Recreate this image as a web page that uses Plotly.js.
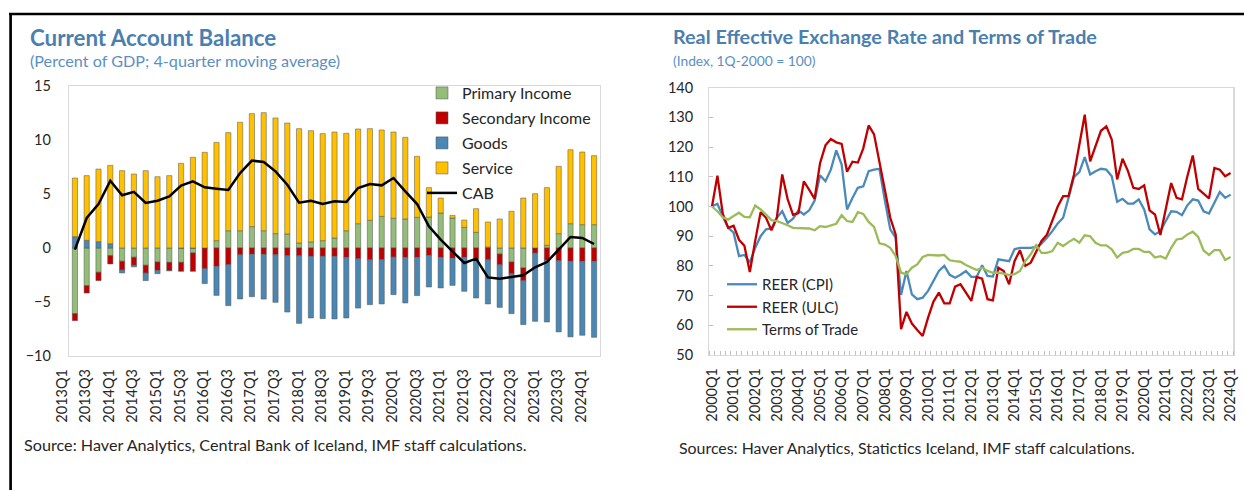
<!DOCTYPE html>
<html>
<head>
<meta charset="utf-8">
<script src="https://cdn.plot.ly/plotly-3.0.1.min.js"></script>
<style>
html,body{margin:0;padding:0;background:#fff;}
#chart{width:1244px;height:490px;}
</style>
</head>
<body>
<div id="chart"></div>
<script>
function quarterRange(y0, q0, y1, q1) {
  var out = [];
  var y = y0, q = q0;
  while (y < y1 || (y === y1 && q <= q1)) {
    out.push(y + 'Q' + q);
    q++; if (q > 4) { q = 1; y++; }
  }
  return out;
}

// ---------- Left chart: Current Account Balance (percent of GDP) ----------
var caQuarters = quarterRange(2013, 1, 2024, 1);
var primaryIncome = [-6.08,-3.49,-2.25,-0.71,-1.23,-0.86,-1.6,-1.3,-1.33,-1.33,-0.46,0,0.68,1.6,1.6,1.98,1.6,1.33,1.3,0.46,0.56,0.68,0.93,1.6,2.25,2.56,2.93,2.75,2.69,2.84,2.87,3.24,2.78,1.91,1.45,0.09,-0.56,-1.3,-1.85,0,0.25,1.33,2.25,2.16,2.16];
var secondaryIncome = [-0.65,-0.68,-0.77,-0.77,-0.8,-0.74,-0.71,-0.77,-0.74,-0.83,-1.7,-1.91,-1.7,-1.54,-0.62,-0.56,-0.59,-0.62,-0.71,-0.71,-0.77,-0.77,-0.77,-0.86,-0.99,-1.08,-1.08,-0.83,-0.86,-0.86,-0.68,-0.86,-0.93,-0.86,-1.08,-1.08,-0.99,-1.08,-1.17,-0.46,-1.14,-1.17,-1.23,-1.23,-1.23];
var goods = [1.05,0.71,0.59,0.4,-0.28,-0.15,-0.71,-0.31,-0.05,0,0,-1.39,-2.69,-3.8,-4.1,-3.95,-4.14,-4.41,-5.22,-6.27,-5.71,-5.77,-5.8,-5.62,-4.57,-4.17,-4.1,-3.49,-4.23,-3.55,-2.93,-2.84,-2.53,-3.15,-3.55,-4.1,-3.95,-3.7,-4.07,-6.33,-5.71,-6.6,-7.0,-6.85,-7.04];
var service = [5.43,5.99,6.72,7.25,7.16,6.85,7.16,6.6,6.7,7.84,8.4,8.86,9.1,9.08,10.04,10.46,10.93,10.71,10.27,10.59,10.3,9.91,9.81,9.02,8.77,8.49,8.0,7.99,7.56,5.65,2.72,1.39,0.24,0.68,2.19,2.32,2.69,3.4,4.63,5.03,5.34,6.23,6.85,6.73,6.39];
var cab = [-0.15,2.78,4.07,6.23,4.88,5.2,4.17,4.38,4.78,5.77,6.17,5.62,5.49,5.37,6.94,8.09,7.96,7.1,5.86,4.2,4.38,4.07,4.32,4.26,5.56,5.93,5.8,6.48,5.25,4.07,2.0,0.77,-0.31,-1.39,-0.99,-2.72,-2.84,-2.65,-2.53,-1.79,-1.3,-0.15,1.02,0.93,0.37];
var caYTicks = [-10,-5,0,5,10,15];

// ---------- Right chart: REER and Terms of Trade (index, 1Q-2000 = 100) ----------
var reerQuarters = quarterRange(2000, 1, 2024, 1);
var reerCPI = [100,100.9,96.5,92.8,91.2,83.3,83.7,81.2,86.1,90.0,92.3,92.6,96.2,98.4,94.5,95.9,98.7,97.3,98.7,102,110.5,108.5,112.4,118.9,114.1,99.0,102.9,106.3,106.8,111.9,112.4,112.7,102,92.3,89.5,70.2,78.3,70.4,68.8,69.3,71.6,74.9,78.3,80.0,77.0,76.0,77.0,78.3,76.3,76.3,80.2,76.6,76.4,82.2,81.9,81.6,85.6,86.1,86.1,86.1,86.4,87.5,89.5,91.7,94.3,96.2,102.9,109.9,111.6,116.6,110.8,111.9,112.7,112.4,110.2,101.6,102.6,101.0,101.0,102.4,99.0,92.3,90.6,91.7,95.1,98.4,98.2,97.1,100.4,102.4,102.0,98.4,97.6,101.2,104.9,102.9,104.0];
var reerULC = [100,110.4,97.5,92.8,93.5,88.8,86.8,77.9,88.5,98.1,96.2,92.0,96.2,110.8,102.5,97.2,97.8,108.5,105.6,102.6,114.6,120.6,122.7,121.6,121.1,111.7,115.1,114.8,119.6,127.3,124.3,114.8,105,96.2,90.6,58.7,64.5,60.6,58.4,56.4,62.6,68.0,71.0,67.4,67.4,73.0,73.8,71.0,68.2,76.3,75.7,68.8,68.4,79.4,78.3,73.8,81.6,85.3,80.0,81.1,85.0,88.4,90.5,95,100,103.5,103.5,110.7,120.8,130.9,115.2,120.3,125.5,127.0,122.5,109.1,116.1,111.9,106.3,105.9,107.1,98.7,97.3,90.4,99.8,107.9,102.9,102.4,110.2,117.2,105.9,104.3,102.7,113.0,112.4,110.2,111.3];
var termsOfTrade = [100,98.4,96.4,95.6,96.8,97.9,96.5,96.4,100.3,99.0,97.3,95.4,95.1,94.5,93.7,92.8,92.8,92.8,92.6,92.0,93.4,93.1,93.7,94.2,97.1,95.1,94.8,98.1,97.5,94.8,93.1,87.6,87.2,86.1,83.3,77.7,77.2,79.4,80.5,83.0,83.7,83.5,83.5,83.7,81.9,81.6,81.4,80.3,79.4,78.6,79.4,78.3,77.7,77.7,77.4,76.9,77.2,78.3,81.6,83.9,87.0,84.4,84.4,85.0,87.8,86.7,88.0,89.1,87.8,90.3,90.0,87.8,86.9,86.9,85.6,82.8,84.4,84.7,85.7,85.7,84.7,84.7,82.8,83.3,82.5,86.1,88.9,89.2,90.6,91.5,89.8,85.2,83.7,85.3,85.3,82.0,83.0];
var reerYTicks = [50,60,70,80,90,100,110,120,130,140];

// ---------- geometry helpers (pixel -> paper) ----------
var W = 1244, H = 490;
function px(x) { return x / W; }
function py(y) { return 1 - y / H; }

var FONT = 'Lato, "Open Sans", sans-serif';
var TXT = '#262626';
var AXC = '#d9d9d9';
var TITLEC = '#4a7fb0';
var SUBC = '#5b8fc4';

var caIdx = caQuarters.map(function (q, i) { return i; });
var reIdx = reerQuarters.map(function (q, i) { return i; });
var caTickIdx = caIdx.filter(function (i) { return i % 2 === 0; });
var caTickTxt = caTickIdx.map(function (i) { return caQuarters[i]; });
var reTickIdx = reIdx.filter(function (i) { return i % 4 === 0; });
var reTickTxt = reTickIdx.map(function (i) { return reerQuarters[i]; });

var barLine = {color: '#505050', width: 0.5};
function barTrace(name, vals, color) {
  return {
    type: 'bar', name: name, x: caIdx, y: vals,
    marker: {color: color, line: barLine},
    xaxis: 'x', yaxis: 'y', legend: 'legend', legendgroup: name,
    customdata: caQuarters, hovertemplate: '%{customdata}: %{y}<extra>' + name + '</extra>'
  };
}

var traces = [
  barTrace('Primary Income', primaryIncome, '#93bd78'),
  barTrace('Secondary Income', secondaryIncome, '#c00000'),
  barTrace('Goods', goods, '#4a87b3'),
  barTrace('Service', service, '#ffc000'),
  {type: 'scatter', mode: 'lines', name: 'CAB', x: caIdx, y: cab,
   line: {color: '#000000', width: 2.5}, xaxis: 'x', yaxis: 'y', legend: 'legend', legendgroup: 'CAB'},
  {type: 'scatter', mode: 'lines', name: 'REER (CPI)', x: reIdx, y: reerCPI,
   line: {color: '#4a8abb', width: 2.3}, xaxis: 'x2', yaxis: 'y2', legend: 'legend2', legendgroup: 'cpi'},
  {type: 'scatter', mode: 'lines', name: 'REER (ULC)', x: reIdx, y: reerULC,
   line: {color: '#c00000', width: 2.3}, xaxis: 'x2', yaxis: 'y2', legend: 'legend2', legendgroup: 'ulc'},
  {type: 'scatter', mode: 'lines', name: 'Terms of Trade', x: reIdx, y: termsOfTrade,
   line: {color: '#9bbb59', width: 2.3}, xaxis: 'x2', yaxis: 'y2', legend: 'legend2', legendgroup: 'tot'}
];

var yLdom = [py(356), py(86)];
var yRdom = [py(355), py(87.7)];
var caRange = [caYTicks[0], caYTicks[caYTicks.length - 1]];
var zeroPos = yLdom[0] + (0 - caRange[0]) / (caRange[1] - caRange[0]) * (yLdom[1] - yLdom[0]);

var tickFont = {family: FONT, size: 14.5, color: TXT};

var layout = {
  width: W, height: H,
  margin: {l: 0, r: 0, t: 0, b: 0},
  paper_bgcolor: '#ffffff', plot_bgcolor: 'rgba(0,0,0,0)',
  font: {family: FONT, color: TXT},
  barmode: 'relative', bargap: 0.56,
  showlegend: true,
  xaxis: {
    domain: [px(69), px(600)], anchor: 'y',
    range: [-0.5, caQuarters.length - 0.5],
    tickmode: 'array', tickvals: caTickIdx, ticktext: caTickTxt,
    tickangle: -90, ticks: '', tickfont: tickFont, ticklabelstandoff: 6, ticklabelshift: -13,
    showline: true, mirror: true, linecolor: AXC, linewidth: 1.2,
    showgrid: false, zeroline: false
  },
  xaxis3: {
    overlaying: 'x', anchor: 'free', position: zeroPos,
    range: [-0.5, caQuarters.length - 0.5],
    tickmode: 'linear', tick0: 0.5, dtick: 1,
    ticks: 'inside', ticklen: 4, tickwidth: 1, tickcolor: AXC,
    showticklabels: false, showline: true, linecolor: AXC, linewidth: 2,
    showgrid: false, zeroline: false
  },
  yaxis: {
    domain: yLdom, anchor: 'x',
    range: caRange, tickmode: 'array', tickvals: caYTicks,
    ticks: '', tickfont: tickFont, ticklabelstandoff: 14,
    showline: true, mirror: true, linecolor: AXC, linewidth: 1.2,
    showgrid: false, zeroline: false
  },
  xaxis2: {
    domain: [px(709.3), px(1233.3)], anchor: 'y2',
    range: [-0.5, reerQuarters.length - 0.5],
    tickmode: 'array', tickvals: reTickIdx, ticktext: reTickTxt,
    tickangle: -90, ticks: '', tickfont: tickFont, ticklabelstandoff: 6,
    minor: {tickmode: 'linear', tick0: 0.5, dtick: 1, ticks: 'inside', ticklen: 4, tickcolor: '#bfbfbf', tickwidth: 1, showgrid: false},
    showline: true, mirror: true, linecolor: AXC, linewidth: 1.2,
    showgrid: false, zeroline: false
  },
  yaxis2: {
    domain: yRdom, anchor: 'x2',
    range: [reerYTicks[0], reerYTicks[reerYTicks.length - 1]],
    tickmode: 'array', tickvals: reerYTicks,
    ticks: 'inside', ticklen: 4, tickcolor: '#bfbfbf', tickfont: tickFont, ticklabelstandoff: 12,
    showline: true, mirror: true, linecolor: AXC, linewidth: 1.2,
    showgrid: false, zeroline: false
  },
  legend: {
    x: px(422), y: py(76), xanchor: 'left', yanchor: 'top',
    bgcolor: 'rgba(0,0,0,0)', borderwidth: 0,
    font: {family: FONT, size: 16, color: TXT},
    traceorder: 'grouped', tracegroupgap: 1.2
  },
  legend2: {
    x: px(722), y: py(268), xanchor: 'left', yanchor: 'top',
    bgcolor: 'rgba(0,0,0,0)', borderwidth: 0,
    font: {family: FONT, size: 15, color: TXT},
    traceorder: 'normal'
  },
  annotations: [
    {text: '<b>Current Account Balance</b>', xref: 'paper', yref: 'paper', x: px(28), y: py(37), xanchor: 'left', yanchor: 'middle', showarrow: false, font: {family: FONT, size: 22.3, color: TITLEC}},
    {text: '(Percent of GDP; 4-quarter moving average)', xref: 'paper', yref: 'paper', x: px(28), y: py(60), xanchor: 'left', yanchor: 'middle', showarrow: false, font: {family: FONT, size: 16.2, color: SUBC}},
    {text: '<b>Real Effective Exchange Rate and Terms of Trade</b>', xref: 'paper', yref: 'paper', x: px(671), y: py(36), xanchor: 'left', yanchor: 'middle', showarrow: false, font: {family: FONT, size: 19.8, color: TITLEC}},
    {text: '(Index, 1Q-2000 = 100)', xref: 'paper', yref: 'paper', x: px(671), y: py(60), xanchor: 'left', yanchor: 'middle', showarrow: false, font: {family: FONT, size: 13.8, color: SUBC}},
    {text: 'Source: Haver Analytics, Central Bank of Iceland, IMF staff calculations.', xref: 'paper', yref: 'paper', x: px(22), y: py(444), xanchor: 'left', yanchor: 'middle', showarrow: false, font: {family: FONT, size: 16.2, color: TXT}},
    {text: 'Sources: Haver Analytics, Statictics Iceland, IMF staff calculations.', xref: 'paper', yref: 'paper', x: px(677), y: py(447), xanchor: 'left', yanchor: 'middle', showarrow: false, font: {family: FONT, size: 15.9, color: TXT}}
  ],
  shapes: [
    {type: 'line', xref: 'paper', yref: 'paper', x0: px(9), x1: 1, y0: py(14), y1: py(14), line: {color: '#000000', width: 2.7}},
    {type: 'line', xref: 'paper', yref: 'paper', x0: px(10.6), x1: px(10.6), y0: py(13), y1: 0, line: {color: '#000000', width: 2.7}}
  ]
};

Plotly.newPlot('chart', traces, layout, {displayModeBar: false, staticPlot: true});
</script>
</body>
</html>
